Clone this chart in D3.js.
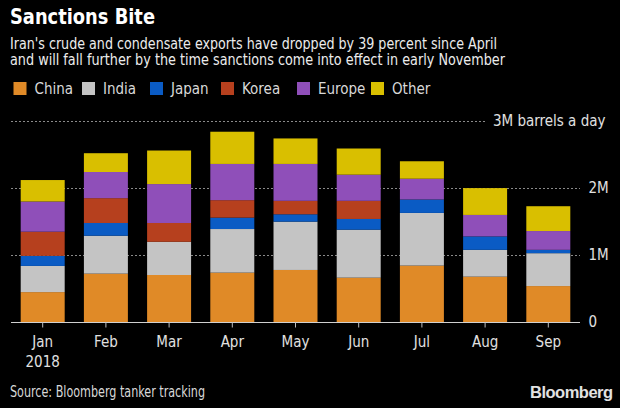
<!DOCTYPE html>
<html><head><meta charset="utf-8">
<script src="https://cdn.jsdelivr.net/npm/d3@7/dist/d3.min.js"></script>
<style>
html,body{margin:0;padding:0;background:#000;}
svg{display:block;}
text{font-family:"Liberation Sans Narrow","DejaVu Sans Condensed","Roboto Condensed",sans-serif;}
</style></head>
<body>
<svg id="c" width="620" height="408"></svg>
<script>
const months = ["Jan","Feb","Mar","Apr","May","Jun","Jul","Aug","Sep"];
const seriesNames = ["China","India","Japan","Korea","Europe","Other"];
const china  = [0.45,0.725,0.705,0.74,0.78,0.665,0.845,0.68,0.54];
const india  = [0.39,0.565,0.495,0.65,0.72,0.715,0.785,0.40,0.49];
const japan  = [0.15,0.19,0.00,0.17,0.11,0.16,0.20,0.20,0.05];
const korea  = [0.36,0.37,0.28,0.26,0.20,0.27,0.00,0.00,0.00];
const europe = [0.45,0.39,0.58,0.54,0.55,0.39,0.31,0.32,0.28];
const other  = [0.32,0.28,0.50,0.48,0.38,0.39,0.26,0.40,0.37];
const yTickValues = [0,1,2,3];
const yTickLabels = ["0","1M","2M","3M barrels a day"];
const colors = ["#e08a27","#c4c4c4","#0a5bc4","#b6401e","#8f4fb9","#d9bf00"];

const seriesVals = [china,india,japan,korea,europe,other];
const table = months.map((m,i)=>{const o={month:m}; seriesNames.forEach((s,j)=>o[s]=seriesVals[j][i]); return o;});

const svg = d3.select("#c");
svg.append("rect").attr("width",620).attr("height",408).attr("fill","#000");

function fit(sel, w){ const n=sel.node(); const L=n.getComputedTextLength(); if(Math.abs(L-w)>2){ sel.attr("textLength",w).attr("lengthAdjust","spacingAndGlyphs"); } return sel; }

fit(svg.append("text").attr("x",10).attr("y",23.5).attr("fill","#fff").attr("font-weight","bold").attr("font-size",21)
  .style("font-family","'DejaVu Sans',Verdana,sans-serif").text("Sanctions Bite"),145);
fit(svg.append("text").attr("x",10).attr("y",48.5).attr("fill","#ececec").attr("font-size",15.5)
  .text("Iran's crude and condensate exports have dropped by 39 percent since April"),487);
fit(svg.append("text").attr("x",10).attr("y",65).attr("fill","#ececec").attr("font-size",15.5)
  .text("and will fall further by the time sanctions come into effect in early November"),495);

// legend
const legX = [13.5,82,150,221,297,371];
const lg = svg.append("g").selectAll("g").data(seriesNames).join("g")
  .attr("transform",(d,i)=>`translate(${legX[i]},82)`);
lg.append("rect").attr("width",13).attr("height",13).attr("fill",(d,i)=>colors[i]);
lg.append("text").attr("x",21).attr("y",12).attr("fill","#d8d8d8").attr("font-size",15).text(d=>d);

const y = d3.scaleLinear().domain([0,3]).range([322.3,121]);
const x = d3.scaleBand().domain(months).range([20.7,570.3]).paddingInner(0.304).paddingOuter(0);

// gridlines
svg.append("g").selectAll("line").data(yTickValues.filter(v=>v>0)).join("line")
  .attr("x1",11).attr("x2",d=>d===3?486:580)
  .attr("y1",d=>Math.round(y(d))+0.5).attr("y2",d=>Math.round(y(d))+0.5)
  .attr("stroke","#8a8a8a").attr("stroke-width",1).attr("stroke-dasharray","2,2");

// bars
const stack = d3.stack().keys(seriesNames)(table);
svg.append("g").selectAll("g").data(stack).join("g").attr("fill",(d,i)=>colors[i])
  .selectAll("rect").data(d=>d).join("rect")
  .attr("x",d=>x(d.data.month)).attr("width",x.bandwidth())
  .attr("y",d=>y(d[1])).attr("height",d=>Math.max(0,y(d[0])-y(d[1])));

// x axis
svg.append("line").attr("x1",11).attr("x2",580).attr("y1",322.5).attr("y2",322.5).attr("stroke","#d0d0d0").attr("stroke-width",1);
const xa = svg.append("g").attr("transform","translate(0,322.5)")
  .call(d3.axisBottom(x).tickSize(5).tickSizeOuter(0).tickPadding(0));
xa.select(".domain").remove();
xa.selectAll(".tick line").attr("stroke","#bdbdbd");
xa.selectAll(".tick text").attr("fill","#e0e0e0").attr("font-size",15).attr("y",24).attr("dy",0)
  .style("font-family","'Liberation Sans Narrow','DejaVu Sans Condensed',sans-serif");
svg.append("text").attr("x",x("Jan")+x.bandwidth()/2).attr("y",367).attr("text-anchor","middle")
  .attr("fill","#e0e0e0").attr("font-size",15).text("2018");

// y labels
svg.append("g").selectAll("text").data(yTickValues).join("text")
  .attr("x",d=>d===3?605.5:588.5).attr("text-anchor",d=>d===3?"end":"start")
  .attr("y",d=>y(d)+5).attr("fill","#e0e0e0").attr("font-size",15)
  .text((d,i)=>yTickLabels[i]);

// footer
fit(svg.append("text").attr("x",10).attr("y",397).attr("fill","#d8d8d8").attr("font-size",15)
  .text("Source: Bloomberg tanker tracking"),195);
fit(svg.append("text").attr("x",530).attr("y",398).attr("fill","#e2e2e2").attr("font-size",16.5).attr("font-weight","bold")
  .style("font-family","'Liberation Sans',Arial,sans-serif").style("letter-spacing","-0.5px").text("Bloomberg"),82);
</script>
</body></html>
